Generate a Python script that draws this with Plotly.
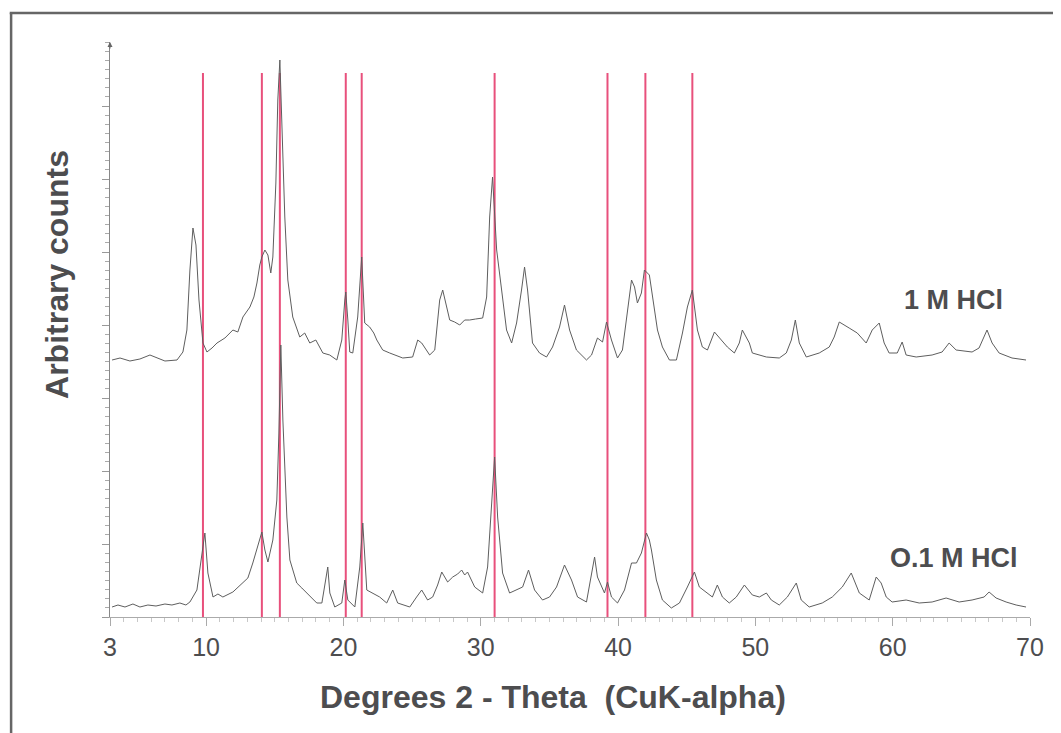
import plotly.graph_objects as go

# 2-theta (degrees) and arbitrary counts
theta_1m = [3.15, 3.73, 4.45, 5.18, 5.91, 6.28, 7.00, 7.88, 8.31, 8.60, 8.82, 9.04, 9.26, 9.48, 9.77,
            10.06, 10.43, 10.79, 11.37, 11.95, 12.31, 12.68, 13.19, 13.48, 13.70, 13.91, 14.06, 14.28,
            14.50, 14.71, 14.86, 15.08, 15.22, 15.37, 15.51, 15.73, 15.95, 16.31, 16.82, 17.18, 17.55,
            17.99, 18.50, 19.00, 19.52, 19.88, 20.10, 20.17, 20.32, 20.46, 20.68, 21.04, 21.33, 21.55,
            21.91, 22.21, 22.43, 22.86, 23.37, 23.88, 24.32, 25.04, 25.41, 25.70, 26.28, 26.65, 27.01,
            27.23, 27.59, 27.74, 28.10, 28.47, 28.83, 29.19, 29.63, 30.14, 30.43, 30.65, 30.86, 31.16,
            31.52, 31.88, 32.25, 32.61, 32.97, 33.19, 33.41, 33.77, 34.28, 34.79, 35.23, 35.74, 36.10,
            36.47, 36.97, 37.70, 38.07, 38.50, 38.87, 39.16, 39.52, 39.96, 40.32, 40.69, 40.98, 41.20,
            41.41, 41.70, 41.92, 42.28, 42.50, 42.87, 43.23, 43.74, 44.25, 44.69, 45.05, 45.41, 45.78,
            46.14, 46.51, 47.02, 47.52, 47.96, 48.47, 48.83, 49.05, 49.56, 49.78, 50.80, 51.74, 52.25,
            52.62, 52.91, 53.20, 53.71, 54.65, 55.38, 55.74, 56.11, 56.83, 57.42, 58.07, 58.51, 59.02,
            59.38, 59.74, 60.33, 60.69, 60.98, 61.71, 62.87, 63.60, 64.11, 64.62, 65.78, 66.29, 66.87,
            67.24, 67.75, 68.69, 69.71]
counts_1m = [257, 259, 256, 258, 262, 260, 256, 257, 265, 287, 347, 389, 372, 317, 274,
             265, 269, 274, 279, 287, 285, 300, 310, 320, 334, 352, 360, 367,
             362, 344, 360, 434, 517, 557, 500, 400, 337, 300, 280, 284, 274,
             277, 264, 262, 257, 277, 317, 325, 297, 265, 264, 300, 360, 294,
             290, 284, 277, 267, 264, 261, 259, 260, 277, 274, 262, 267, 317,
             327, 307, 297, 295, 292, 297, 297, 298, 299, 320, 400, 440, 367,
             327, 287, 274, 294, 327, 350, 327, 274, 264, 260, 270, 290, 312,
             287, 267, 257, 262, 279, 275, 295, 277, 259, 267, 307, 337, 330,
             314, 324, 347, 342, 320, 287, 270, 257, 257, 284, 310, 327, 287,
             270, 267, 285, 277, 270, 264, 274, 287, 274, 264, 260, 259, 264,
             277, 297, 274, 260, 264, 270, 280, 295, 289, 284, 274, 287, 294,
             274, 264, 264, 275, 262, 260, 262, 265, 274, 267, 265, 269, 287,
             274, 264, 259, 257]

theta_01m = [3.15, 3.58, 4.09, 4.67, 5.18, 5.76, 6.35, 7.00, 7.51, 8.09, 8.53, 8.82, 9.33, 9.69, 9.91,
             10.13, 10.50, 10.86, 11.22, 11.95, 12.68, 13.04, 13.40, 13.77, 14.06, 14.28, 14.50, 14.86,
             15.15, 15.30, 15.44, 15.59, 15.73, 15.88, 16.10, 16.60, 16.97, 17.33, 17.70, 18.06, 18.43,
             18.64, 18.86, 19.01, 19.37, 19.88, 20.10, 20.32, 20.83, 21.19, 21.41, 21.70, 22.13, 22.64,
             23.15, 23.59, 23.95, 24.83, 25.33, 25.70, 26.13, 26.50, 26.86, 27.16, 27.59, 27.96, 28.32,
             28.61, 28.83, 29.04, 29.56, 30.14, 30.50, 30.79, 31.01, 31.23, 31.59, 32.10, 32.61, 33.05,
             33.48, 33.92, 34.50, 35.01, 35.52, 36.10, 36.61, 37.05, 37.70, 38.07, 38.29, 38.50, 39.01,
             39.23, 39.52, 39.96, 40.47, 40.98, 41.34, 41.70, 42.07, 42.28, 42.43, 42.79, 43.23, 43.88,
             44.47, 45.05, 45.56, 45.92, 46.43, 46.87, 47.23, 47.60, 48.10, 48.61, 49.20, 49.78, 50.29,
             50.80, 51.16, 51.74, 52.33, 52.98, 53.34, 53.92, 54.87, 55.60, 56.33, 56.98, 57.57, 58.29,
             58.80, 59.16, 59.53, 59.96, 60.98, 61.93, 62.87, 63.89, 64.84, 65.78, 66.66, 67.02, 67.53,
             68.26, 68.99, 69.71]
counts_01m = [10, 12, 10, 13, 10, 12, 11, 13, 12, 14, 12, 15, 27, 60, 84,
              44, 20, 23, 20, 25, 34, 39, 54, 70, 85, 67, 55, 77,
              117, 184, 272, 197, 147, 100, 57, 34, 29, 24, 18, 14, 14,
              30, 50, 24, 10, 14, 37, 17, 10, 50, 94, 27, 24, 20,
              14, 27, 14, 10, 20, 27, 17, 20, 32, 45, 35, 40, 43,
              47, 42, 45, 30, 24, 50, 117, 160, 100, 44, 24, 27, 30,
              47, 27, 17, 20, 30, 52, 37, 20, 15, 44, 60, 40, 24,
              35, 20, 14, 27, 54, 54, 64, 84, 77, 67, 37, 17, 9,
              14, 30, 45, 30, 25, 20, 32, 20, 14, 20, 32, 22, 20,
              24, 17, 12, 20, 34, 17, 10, 14, 20, 30, 44, 24, 17,
              40, 34, 20, 15, 17, 14, 15, 19, 15, 17, 20, 25, 19,
              15, 12, 10]

# reference reflection positions (red lines)
ref_positions = [9.77, 14.06, 15.37, 20.17, 21.33, 31.01, 39.23, 41.99, 45.41]
ref_height = 544

x_ticks = [3, 10, 20, 30, 40, 50, 60, 70]
x_range = [3, 70]
y_range = [0, 575]

series_labels = ["1 M HCl", "O.1 M HCl"]
label_pos = [(64.4, 317), (64.45, 59)]

FONT = "Liberation Sans, Arial, Helvetica, sans-serif"
TXT = "#4d4d4f"
RED = "#e8507c"
TRACE = "#5e5e5e"

fig = go.Figure()

for p in ref_positions:
    fig.add_trace(go.Scatter(x=[p, p], y=[0, ref_height], mode="lines",
                             line=dict(color=RED, width=2), hoverinfo="skip", showlegend=False))

fig.add_trace(go.Scatter(x=theta_1m, y=counts_1m, mode="lines",
                         line=dict(color=TRACE, width=1), name=series_labels[0], showlegend=False))
fig.add_trace(go.Scatter(x=theta_01m, y=counts_01m, mode="lines",
                         line=dict(color=TRACE, width=1), name=series_labels[1], showlegend=False))

for txt, (xx, yy) in zip(series_labels, label_pos):
    fig.add_annotation(x=xx, y=yy, xref="x", yref="y", text=txt, showarrow=False,
                       xanchor="center", yanchor="middle",
                       font=dict(family=FONT, size=27, color=TXT, weight="bold"))

fig.add_annotation(x=0.481, y=-0.139, xref="paper", yref="paper", xanchor="center", yanchor="middle",
                   text="Degrees 2 - Theta&nbsp;&nbsp;(CuK-alpha)", showarrow=False,
                   font=dict(family=FONT, size=32, color=TXT, weight="bold"))
fig.add_annotation(x=-0.0575, y=0.595, xref="paper", yref="paper", textangle=-90,
                   xanchor="center", yanchor="middle",
                   text="Arbitrary counts", showarrow=False,
                   font=dict(family=FONT, size=32, color=TXT, weight="bold"))

# small arrow head at the top of the y axis
fig.add_annotation(x=0, y=1.0, xref="paper", yref="paper", ax=0, ay=8, text="",
                   showarrow=True, arrowhead=2, arrowsize=1, arrowwidth=1, arrowcolor="#666666")

# outer frame (top and left edges visible)
fig.add_shape(type="line", xref="paper", yref="paper", x0=-0.109, x1=1.05, y0=1.0504, y1=1.0504,
              line=dict(color="#666666", width=2.5))
fig.add_shape(type="line", xref="paper", yref="paper", x0=-0.1075, x1=-0.1075, y0=1.0504, y1=-0.22,
              line=dict(color="#666666", width=2.5))

fig.update_xaxes(range=x_range, tickvals=x_ticks, ticks="outside", ticklen=8, tickcolor="#aaaaaa",
                 showline=True, linecolor="#aaaaaa", linewidth=1, showgrid=False, zeroline=False,
                 tickfont=dict(family=FONT, size=25, color=TXT),
                 minor=dict(dtick=1, ticks="outside", ticklen=4, tickcolor="#c8c8c8"))
fig.update_yaxes(range=y_range, showticklabels=False, ticks="outside", ticklen=7, tickcolor="#999999",
                 tick0=0, dtick=73, showline=True, linecolor="#888888", linewidth=1,
                 showgrid=False, zeroline=False,
                 minor=dict(dtick=9.125, tick0=0, ticks="outside", ticklen=4, tickcolor="#aaaaaa"))

fig.update_layout(width=1061, height=733, plot_bgcolor="white", paper_bgcolor="white",
                  margin=dict(l=102, r=39, t=34, b=124), showlegend=False)

fig.write_html("out.html")
